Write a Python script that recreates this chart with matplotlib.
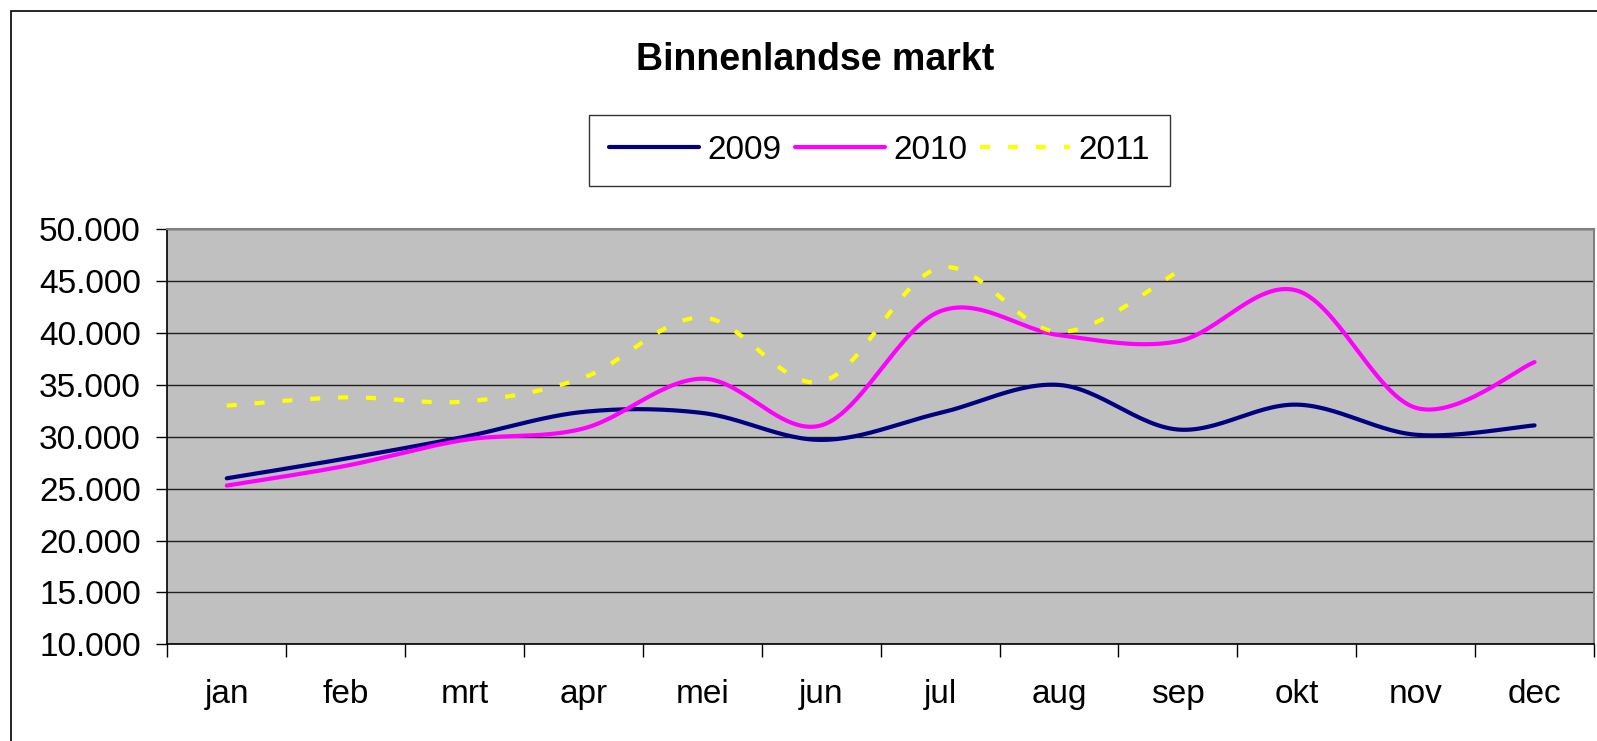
import numpy as np
import matplotlib
matplotlib.use('Agg')
import matplotlib.pyplot as plt
from matplotlib.patches import Rectangle
from matplotlib.ticker import FuncFormatter, FixedLocator

plt.rcParams['font.family'] = ['Liberation Sans', 'DejaVu Sans']

months = ['jan', 'feb', 'mrt', 'apr', 'mei', 'jun', 'jul', 'aug', 'sep', 'okt', 'nov', 'dec']
v2009 = [26000, 27900, 30000, 32400, 32300, 29700, 32300, 35000, 30700, 33100, 30200, 31100]
v2010 = [25300, 27200, 29700, 30800, 35600, 31100, 42100, 39800, 39200, 44100, 32800, 37200]
v2011 = [33000, 33800, 33400, 35700, 41500, 35300, 46300, 40100, 45900]


def smooth(xs, ys, n=30):
    # excel-like smoothed line: cubic bezier with catmull-rom control points
    x = np.asarray(xs, float)
    y = np.asarray(ys, float)
    px = np.concatenate([[x[0]], x, [x[-1]]])
    py = np.concatenate([[y[0]], y, [y[-1]]])
    t = np.linspace(0, 1, n)[:, None]
    outx, outy = [], []
    for i in range(1, len(x)):
        p0 = np.array([px[i], py[i]])
        p3 = np.array([px[i + 1], py[i + 1]])
        c1 = p0 + (np.array([px[i + 1], py[i + 1]]) - np.array([px[i - 1], py[i - 1]])) / 6
        c2 = p3 - (np.array([px[i + 2], py[i + 2]]) - np.array([px[i], py[i]])) / 6
        b = (1 - t) ** 3 * p0 + 3 * (1 - t) ** 2 * t * c1 + 3 * (1 - t) * t ** 2 * c2 + t ** 3 * p3
        if i > 1:
            b = b[1:]
        outx.extend(b[:, 0])
        outy.extend(b[:, 1])
    return outx, outy


W, H = 1597, 741
fig = plt.figure(figsize=(W / 100, H / 100), dpi=100)
ax = fig.add_axes([167.3 / W, 1 - 644.3 / H, (1594 - 167.3) / W, (644.3 - 229.3) / H])
ax.set_facecolor('#C0C0C0')

x = np.arange(len(months))
sx, sy = smooth(x, v2009)
ax.plot(sx, sy, color='#000080', lw=3, solid_capstyle='round', label='2009', zorder=3)
sx, sy = smooth(x, v2010)
ax.plot(sx, sy, color='#FF00FF', lw=3, solid_capstyle='round', label='2010', zorder=3)
sx, sy = smooth(x[:len(v2011)], v2011)
ax.plot(sx, sy, color='#FFFF00', lw=3, linestyle=(0, (2.4, 4.3)), dash_capstyle='butt',
        label='2011', zorder=3)

ax.set_xlim(-0.5, len(months) - 0.5)
ax.set_ylim(10000, 50000)
ax.set_yticks(np.arange(10000, 50001, 5000))
ax.yaxis.set_major_formatter(FuncFormatter(lambda v, p: '{:,.0f}'.format(v).replace(',', '.')))
ax.grid(axis='y', color='#202020', lw=1)
ax.set_axisbelow(True)

ax.xaxis.set_major_locator(FixedLocator(np.arange(-0.5, len(months), 1.0)))
ax.xaxis.set_minor_locator(FixedLocator(x))
ax.set_xticklabels([])
ax.set_xticklabels(months, minor=True)
ax.tick_params(axis='x', which='major', length=9, width=1, direction='out')
ax.tick_params(axis='x', which='minor', length=0, pad=25, labelsize=24)
ax.tick_params(axis='y', length=8, width=1, direction='out', pad=11, labelsize=24)

for s in ['left', 'bottom']:
    ax.spines[s].set_color('black')
    ax.spines[s].set_linewidth(1.2)
for s in ['top', 'right']:
    ax.spines[s].set_color('#808080')
    ax.spines[s].set_linewidth(1.5)

fig.text(815 / W, 1 - 70 / H, 'Binnenlandse markt', ha='center', va='baseline',
         fontsize=27, fontweight='bold')

leg = ax.legend(loc='center', bbox_to_anchor=(879.5 / W, 1 - 150.5 / H),
                bbox_transform=fig.transFigure, ncol=3, fontsize=24, frameon=True,
                fancybox=False, shadow=False, handlelength=2.7, handletextpad=0.25,
                columnspacing=0.4, borderpad=0.6, borderaxespad=0)
leg.get_frame().set_edgecolor('black')
leg.get_frame().set_linewidth(1)

# chart border
fig.add_artist(Rectangle((11 / W, -0.1), 1.2, 1 - 11 / H + 0.1, transform=fig.transFigure,
                         fill=False, edgecolor='black', lw=1.2))

fig.savefig('out.png', dpi=100)
